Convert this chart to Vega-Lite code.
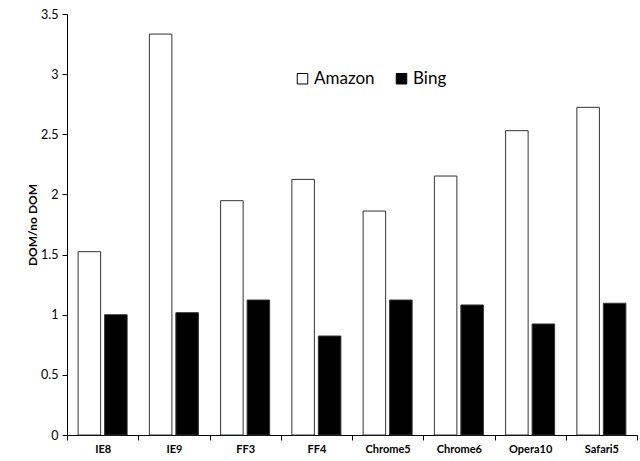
{
  "$schema": "https://vega.github.io/schema/vega-lite/v6.json",
  "autosize": {"type": "none"},
  "width": 570,
  "height": 421,
  "padding": {"left": 67, "top": 14, "right": 3, "bottom": 26},
  "background": "white",
  "config": {
    "view": {"stroke": null},
    "font": "Lato",
    "axis": {"grid": false, "domainColor": "black", "tickColor": "black", "labelColor": "black", "titleColor": "black", "labelFont": "Lato", "titleFont": "Lato"}
  },
  "data": {
    "values": [
      {"browser": "IE8", "site": "Amazon", "value": 1.524},
      {"browser": "IE8", "site": "Bing", "value": 1.0},
      {"browser": "IE9", "site": "Amazon", "value": 3.333},
      {"browser": "IE9", "site": "Bing", "value": 1.017},
      {"browser": "FF3", "site": "Amazon", "value": 1.948},
      {"browser": "FF3", "site": "Bing", "value": 1.122},
      {"browser": "FF4", "site": "Amazon", "value": 2.125},
      {"browser": "FF4", "site": "Bing", "value": 0.823},
      {"browser": "Chrome5", "site": "Amazon", "value": 1.862},
      {"browser": "Chrome5", "site": "Bing", "value": 1.122},
      {"browser": "Chrome6", "site": "Amazon", "value": 2.153},
      {"browser": "Chrome6", "site": "Bing", "value": 1.081},
      {"browser": "Opera10", "site": "Amazon", "value": 2.53},
      {"browser": "Opera10", "site": "Bing", "value": 0.923},
      {"browser": "Safari5", "site": "Amazon", "value": 2.724},
      {"browser": "Safari5", "site": "Bing", "value": 1.095}
    ]
  },
  "mark": {"type": "bar", "stroke": "#333333", "strokeWidth": 1},
  "encoding": {
    "x": {
      "field": "browser", "type": "nominal", "sort": null,
      "scale": {"paddingInner": 0, "paddingOuter": 0},
      "axis": {"title": null, "labelAngle": 0, "labelFontWeight": "bold", "labelFontSize": 11, "tickBand": "extent", "tickSize": 5, "labelPadding": 3, "domainWidth": 1}
    },
    "xOffset": {
      "field": "site", "type": "nominal",
      "scale": {"paddingInner": 0.15, "paddingOuter": 0.42}
    },
    "y": {
      "field": "value", "type": "quantitative",
      "scale": {"domain": [0, 3.5], "nice": false},
      "axis": {"title": "DOM/no DOM", "titleFontWeight": "bold", "titleFontSize": 12, "values": [0, 0.5, 1, 1.5, 2, 2.5, 3, 3.5], "labelFontSize": 12.5, "tickSize": 5, "labelPadding": 4, "titlePadding": 1, "labelExpr": "datum.value"}
    },
    "fill": {
      "field": "site", "type": "nominal",
      "scale": {"domain": ["Amazon", "Bing"], "range": ["white", "black"]},
      "legend": {
        "title": null, "orient": "none", "legendX": 227, "legendY": 56, "direction": "horizontal",
        "symbolType": "square", "symbolSize": 110, "symbolStrokeColor": "black", "symbolStrokeWidth": 1,
        "labelFontSize": 17, "labelFont": "Lato", "labelColor": "black", "columnPadding": 18, "labelOffset": 3
      }
    }
  }
}
